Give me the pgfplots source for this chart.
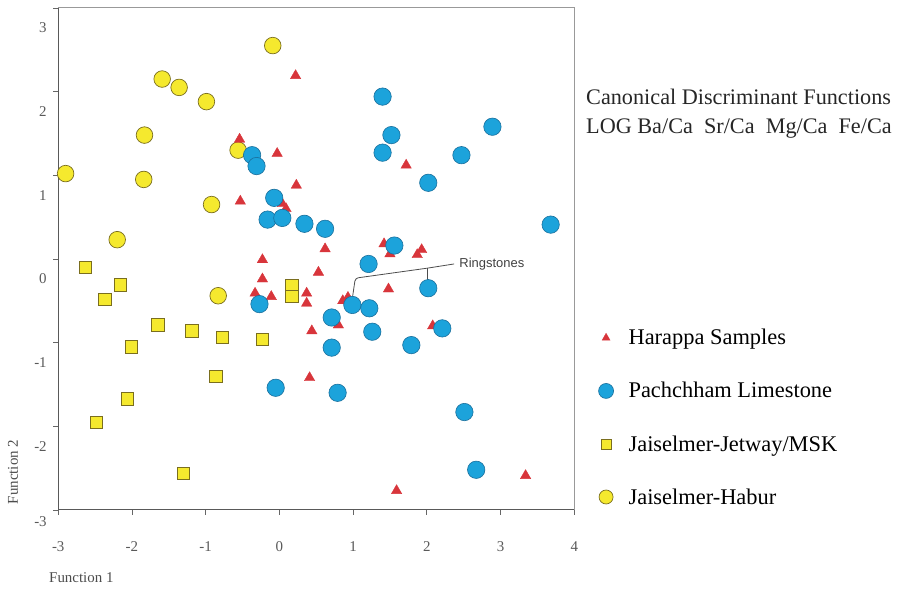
\documentclass[border=0pt]{standalone}
\usepackage{fontspec}
\setmainfont{Liberation Serif}
\newfontfamily\sansf{Liberation Sans}
\usepackage{pgfplots}
\pgfplotsset{compat=1.18}
\definecolor{harred}{HTML}{D8353B}
\definecolor{pachblue}{HTML}{1CA3DB}
\definecolor{pachedge}{HTML}{1A6F9C}
\definecolor{jyellow}{HTML}{F5E92E}
\definecolor{jedge}{HTML}{7A6E1E}
\begin{document}
\begin{tikzpicture}[x=1bp,y=1bp]
\path[use as bounding box] (0,0) rectangle (898,589);
\begin{axis}[
  at={(79,94.5)}, anchor=south west,
  scale only axis, width=516bp, height=502bp,
  xmin=-3, xmax=4, ymin=-3, ymax=3,
  xtick={-3,...,4}, ytick={-2,...,3},
  extra y ticks={-3},
  extra y tick style={yticklabel style={yshift=8bp}},
  xtick pos=bottom, ytick pos=left,
  tick align=outside, major tick length=5bp,
  tick style={black!60, line width=0.8bp},
  axis line style={black!40, line width=0.9bp},
  ticklabel style={font=\fontsize{15}{15}\selectfont, text=black!65},
  /pgf/number format/assume math mode=true,
  xticklabel style={yshift=-23bp},
  yticklabel style={yshift=-20bp, xshift=-3bp},
  clip=false,
  legend style={at={(1.041,0.368)}, anchor=north west, draw=none, fill=none,
    font=\fontsize{22.5}{22.5}\selectfont, row sep=32bp, column sep=13bp},
  legend cell align=left,
]
\addlegendimage{only marks, mark=triangle*, mark size=4.6bp, mark options={fill=harred, draw=harred}}
\addlegendentry{Harappa Samples}
\addlegendimage{only marks, mark=*, mark size=7.5bp, mark options={fill=pachblue, draw=pachedge, line width=0.6bp}}
\addlegendentry{Pachchham Limestone}
\addlegendimage{only marks, mark=square*, mark size=5bp, mark options={fill=jyellow, draw=jedge, line width=0.7bp}}
\addlegendentry{Jaiselmer-Jetway/MSK}
\addlegendimage{only marks, mark=*, mark size=7bp, mark options={fill=jyellow, draw=jedge, line width=0.7bp}}
\addlegendentry{Jaiselmer-Habur}

% Jaiselmer-Habur
\addplot[only marks, forget plot, mark=*, mark size=8.3bp, mark options={fill=jyellow, draw=jedge, line width=0.7bp}] coordinates {
(-0.09,2.55) (-1.59,2.15) (-1.36,2.05) (-0.99,1.88) (-1.83,1.48) (-0.56,1.30)
(-2.90,1.02) (-1.84,0.95) (-0.92,0.65) (-2.20,0.23) (-0.83,-0.44)
};
% Jaiselmer-Jetway/MSK
\addplot[only marks, forget plot, mark=square*, mark size=6.2bp, mark options={fill=jyellow, draw=jedge, line width=0.7bp}] coordinates {
(-2.63,-0.10) (-2.16,-0.31) (-2.37,-0.48) (0.17,-0.32) (0.17,-0.45) (-1.65,-0.79)
(-1.19,-0.86) (-0.77,-0.94) (-0.23,-0.96) (-2.01,-1.05) (-0.86,-1.40) (-2.06,-1.67)
(-2.48,-1.95) (-1.30,-2.56)
};
% Harappa Samples
\addplot[only marks, forget plot, mark=triangle*, mark size=6bp, mark options={fill=harred, draw=harred}] coordinates {
(0.22,2.19) (-0.54,1.43) (-0.03,1.26) (1.72,1.12) (0.23,0.88) (-0.53,0.69)
(0.04,0.66) (0.09,0.60) (0.62,0.12) (-0.23,-0.01) (0.53,-0.16) (-0.23,-0.24)
(-0.33,-0.41) (-0.11,-0.45) (0.37,-0.41) (0.37,-0.53) (0.86,-0.50) (0.93,-0.46)
(0.80,-0.79) (0.44,-0.86) (1.42,0.18) (1.50,0.06) (1.93,0.11) (1.87,0.05)
(1.48,-0.36) (2.08,-0.80) (0.41,-1.42) (1.59,-2.77) (3.34,-2.59)
};
% Pachchham Limestone
\addplot[only marks, forget plot, mark=*, mark size=8.7bp, mark options={fill=pachblue, draw=pachedge, line width=0.6bp}] coordinates {
(-0.37,1.24) (-0.31,1.11) (-0.07,0.73) (-0.16,0.47) (0.04,0.49) (0.34,0.42)
(0.62,0.36) (1.40,1.94) (1.52,1.48) (1.40,1.27) (2.89,1.58) (2.47,1.24)
(2.02,0.91) (3.68,0.41) (1.56,0.16) (1.21,-0.06) (2.02,-0.35) (0.99,-0.55)
(1.22,-0.59) (0.71,-0.70) (1.26,-0.87) (2.21,-0.83) (0.71,-1.06) (1.79,-1.03)
(-0.05,-1.54) (0.79,-1.60) (2.51,-1.83) (2.67,-2.52) (-0.27,-0.54)
};
% darker left and bottom axis lines
\draw[black!65, line width=0.9bp] (rel axis cs:0,1) -- (rel axis cs:0,0) -- (rel axis cs:1,0);
% Ringstones callout
\draw[black!70, line width=0.8bp, rounded corners=3bp] (axis cs:2.37,-0.06) -- (axis cs:2.01,-0.11) -- (axis cs:1.03,-0.23) -- (axis cs:0.99,-0.47);
\draw[black!70, line width=0.8bp] (axis cs:2.01,-0.11) -- (axis cs:2.01,-0.28);
\node[anchor=west, inner sep=0pt, font=\sansf\fontsize{13}{13}\selectfont, text=black!75] at (axis cs:2.44,-0.06) {Ringstones};
\end{axis}
\node[anchor=base west, inner sep=0pt, font=\fontsize{22.3}{26}\selectfont, text=black!85] at (586,484) {Canonical Discriminant Functions};
\node[anchor=base west, inner sep=0pt, font=\fontsize{22.3}{26}\selectfont, text=black!85] at (586,455) {LOG Ba/Ca\ \ Sr/Ca\ \ Mg/Ca\ \ Fe/Ca};
\node[anchor=base west, inner sep=0pt, font=\fontsize{15}{15}\selectfont, text=black!70] at (49,6) {Function 1};
\node[rotate=90, inner sep=0pt, font=\fontsize{15}{15}\selectfont, text=black!70] at (13,117) {Function 2};
\end{tikzpicture}
\end{document}
